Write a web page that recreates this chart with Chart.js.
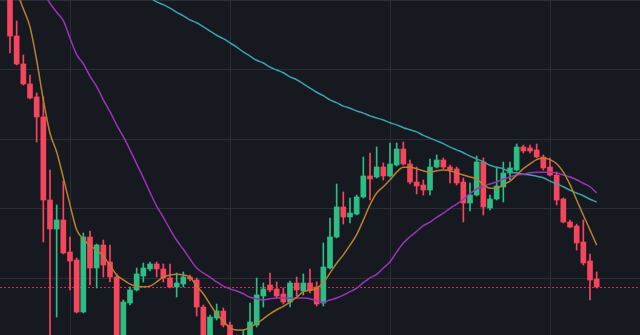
<!DOCTYPE html>
<html>
<head>
<meta charset="utf-8">
<script src="https://cdn.jsdelivr.net/npm/chart.js@4.4.1/dist/chart.umd.min.js"></script>
<style>
  html, body { margin: 0; padding: 0; background: #161a20; }
  #wrap { width: 640px; height: 335px; }
</style>
</head>
<body>
<div id="wrap"><canvas id="grafico" width="640" height="335"></canvas></div>
<script>
// Velas horarias (una por categoría, empezando en la segunda)
const aperturas = [
  104.39, 94.89, 90.86, 87.99, 86.12, 83.24, 71.29, 67.12, 68.42, 63.81,
  62.66, 55.18, 65.97, 61.51, 64.82, 62.37, 60.22, 49.71, 56.47, 58.35,
  60.36, 61.37, 62.09, 61.37, 60.07, 58.78, 59.21, 60.22, 59.78, 55.90,
  51.15, 54.32, 55.32, 53.31, 50.86, 49.42, 51.44, 53.31, 57.48, 59.06,
  58.49, 57.77, 56.62, 59.35, 58.20, 59.35, 58.78, 56.47, 61.51, 65.97,
  70.29, 68.85, 69.28, 71.73, 74.75, 74.60, 76.04, 74.75, 76.33, 78.63,
  76.47, 73.88, 73.45, 72.73, 76.04, 77.05, 76.04, 75.76, 73.88, 70.86,
  72.01, 76.76, 70.14, 71.44, 73.17, 75.18, 75.61, 78.92, 78.78, 78.49,
  77.48, 76.04, 74.89, 71.44, 68.13, 67.55, 65.25, 62.52, 59.93
];
const maximos = [
  105.83, 97.05, 92.16, 89.28, 86.69, 86.12, 75.61, 70.58, 74.03, 65.97,
  62.95, 66.55, 66.83, 64.96, 65.54, 64.82, 60.65, 56.91, 58.78, 61.51,
  62.23, 62.37, 62.37, 62.09, 62.09, 60.79, 60.94, 60.50, 60.07, 56.19,
  54.75, 56.33, 55.76, 53.74, 51.87, 52.59, 56.47, 60.07, 59.35, 60.79,
  59.50, 58.63, 59.64, 60.22, 60.65, 61.37, 59.50, 65.11, 68.71, 73.60,
  72.45, 71.58, 72.01, 77.48, 78.06, 78.92, 76.62, 79.50, 79.50, 79.64,
  77.05, 76.04, 74.17, 77.19, 77.77, 77.34, 76.33, 76.04, 74.46, 73.74,
  77.63, 77.34, 72.01, 76.04, 76.76, 76.76, 79.35, 79.21, 79.21, 79.35,
  77.77, 77.34, 75.32, 71.58, 68.42, 67.84, 68.42, 63.53, 60.94
];
const minimos = [
  92.45, 90.72, 87.84, 85.83, 79.64, 65.25, 50.43, 54.46, 63.53, 58.35,
  55.04, 55.04, 59.06, 58.63, 60.22, 59.50, 48.27, 48.99, 56.19, 58.20,
  59.50, 61.08, 60.22, 59.50, 58.63, 57.34, 58.78, 59.64, 54.60, 50.43,
  50.43, 54.03, 53.02, 49.71, 48.27, 48.56, 50.43, 53.02, 55.90, 58.06,
  57.19, 56.33, 55.90, 57.48, 57.63, 57.91, 56.04, 56.04, 61.37, 65.83,
  67.84, 67.99, 69.14, 71.58, 71.29, 74.46, 74.17, 74.60, 76.19, 76.33,
  73.60, 72.16, 72.01, 72.01, 75.90, 75.76, 73.74, 73.45, 68.13, 69.71,
  71.87, 69.14, 69.86, 71.29, 71.01, 74.17, 75.47, 78.06, 78.06, 77.34,
  75.61, 74.75, 70.58, 67.99, 67.27, 64.10, 61.94, 56.91, 58.63
];
const cierres = [
  94.89, 90.86, 87.99, 85.97, 83.24, 71.29, 67.12, 68.42, 63.67, 62.52,
  55.18, 65.97, 61.51, 64.82, 61.94, 60.22, 49.71, 56.62, 58.35, 60.65,
  61.51, 62.09, 61.37, 60.07, 58.78, 59.35, 60.22, 59.93, 55.90, 51.15,
  54.46, 55.32, 53.31, 50.86, 49.42, 51.44, 53.74, 57.63, 58.49, 58.35,
  57.48, 56.62, 59.35, 58.35, 59.35, 58.35, 56.33, 61.65, 65.97, 70.29,
  68.85, 69.42, 71.73, 74.75, 74.32, 76.04, 74.75, 76.47, 78.63, 76.47,
  73.88, 73.31, 72.73, 76.04, 77.05, 76.04, 75.61, 73.74, 70.86, 72.01,
  76.76, 70.29, 71.44, 73.31, 75.18, 75.90, 78.92, 78.35, 78.35, 77.48,
  75.90, 74.89, 71.29, 68.13, 67.41, 65.11, 62.23, 59.78, 58.78
];

// Medias móviles
const ma7 = [
  104.4, 101.4, 98.8, 96.2, 91.4, 85.7, 80.9, 78.2, 74.5, 70.6,
  67.0, 65.7, 64.7, 64.1, 63.2, 61.9, 60.5, 59.8, 59.2, 58.9,
  58.8, 58.9, 59.5, 60.2, 60.5, 60.6, 60.5, 60.2, 58.9, 57.8,
  56.3, 54.9, 53.9, 52.9, 52.6, 52.6, 53.0, 53.5, 54.2, 54.9,
  55.5, 56.0, 56.6, 57.3, 58.1, 58.3, 58.6, 59.4, 60.8, 62.2,
  63.4, 64.8, 66.3, 68.4, 70.6, 72.3, 73.2, 74.2, 75.3, 76.0,
  76.0, 75.8, 75.5, 75.3, 75.5, 75.6, 75.5, 75.2, 74.9, 74.6,
  74.3, 73.5, 73.0, 73.0, 73.5, 74.0, 74.9, 75.8, 76.5, 77.1,
  77.3, 77.1, 76.5, 75.3, 73.5, 71.3, 69.1, 67.0, 64.8
];
const ma25 = [
  111.6, 109.4, 107.3, 105.3, 103.2, 101.2, 99.6, 98.3, 97.1, 94.6,
  92.2, 90.9, 89.1, 87.6, 85.7, 84.0, 82.1, 80.4, 78.5, 76.5,
  74.5, 72.4, 70.4, 68.8, 67.1, 65.5, 64.2, 62.8, 61.5, 60.8,
  60.2, 59.5, 58.9, 58.5, 58.2, 57.8, 57.3, 57.1, 56.9, 57.1,
  57.2, 57.2, 57.2, 57.2, 57.2, 57.1, 56.8, 56.6, 56.9, 57.2,
  57.6, 58.1, 58.6, 59.4, 60.1, 60.6, 61.5, 62.4, 63.8, 65.1,
  66.0, 66.8, 67.6, 68.1, 68.8, 69.4, 70.1, 70.7, 71.4, 72.2,
  72.9, 73.3, 73.6, 73.9, 74.3, 74.6, 74.9, 75.0, 75.2, 75.3,
  75.3, 75.3, 75.2, 74.9, 74.6, 74.2, 73.7, 73.2, 72.3
];
const ma99 = [
  null, null, null, null, null, null, null, null, null, null,
  null, null, null, null, null, null, null, null, null, 101.5,
  100.9, 100.4, 99.8, 99.4, 98.9, 98.3, 97.8, 97.2, 96.8, 96.2,
  95.6, 95.0, 94.5, 93.9, 93.3, 92.6, 92.0, 91.4, 91.0, 90.4,
  90.0, 89.6, 89.0, 88.6, 88.0, 87.4, 86.8, 86.3, 85.7, 85.3,
  84.8, 84.5, 84.1, 83.8, 83.4, 83.1, 82.8, 82.4, 82.1, 81.7,
  81.4, 81.1, 80.6, 80.2, 79.8, 79.4, 78.9, 78.5, 78.1, 77.6,
  77.2, 76.8, 76.3, 76.0, 75.8, 75.3, 75.2, 75.0, 74.9, 74.7,
  74.5, 74.0, 73.6, 73.2, 72.7, 72.3, 71.9, 71.4, 71.0
];

// 96 horas en el eje X (las últimas quedan vacías a la derecha)
const horas = Array.from({ length: 96 }, (_, i) => {
  const t = 14 + i;
  const dia = String(4 + Math.floor(t / 24)).padStart(2, '0');
  const hora = String(t % 24).padStart(2, '0');
  return `12-${dia} ${hora}:00`;
});

// 🎨 Colores
const VERDE = '#2ebd85';
const ROJO = '#f6465d';
const REJILLA = '#2a2e36';

const colores = aperturas.map((o, i) => (cierres[i] >= o ? VERDE : ROJO));
const cuerpos = aperturas.map((o, i) => ({ x: horas[i + 1], y: [o, cierres[i]] }));
const mechas = aperturas.map((o, i) => ({ x: horas[i + 1], y: [minimos[i], maximos[i]] }));
const serie = arr => arr.map((v, i) => ({ x: horas[i + 1], y: v }));

// Línea punteada del último precio
const lineaPrecio = {
  id: 'lineaPrecio',
  beforeDatasetsDraw(chart) {
    const { ctx, chartArea, scales } = chart;
    const y = Math.round(scales.y.getPixelForValue(cierres[cierres.length - 1])) + 0.5;
    ctx.save();
    ctx.strokeStyle = 'rgba(246, 70, 93, 0.75)';
    ctx.lineWidth = 1;
    ctx.setLineDash([2, 2]);
    ctx.beginPath();
    ctx.moveTo(chartArea.left, y);
    ctx.lineTo(chartArea.right, y);
    ctx.stroke();
    ctx.restore();
  }
};

const linea = (datos, color) => ({
  type: 'line',
  data: serie(datos),
  borderColor: color,
  borderWidth: 1.5,
  pointRadius: 0,
  cubicInterpolationMode: 'monotone',
  order: 0
});

new Chart(document.getElementById('grafico'), {
  type: 'bar',
  data: {
    labels: horas,
    datasets: [
      linea(ma7, '#b8802f'),
      linea(ma25, '#9c33b8'),
      linea(ma99, '#38a3a8'),
      {
        data: cuerpos,
        backgroundColor: colores,
        grouped: false,
        barThickness: 5,
        minBarLength: 1,
        order: 1
      },
      {
        data: mechas,
        backgroundColor: colores,
        grouped: false,
        barThickness: 1,
        order: 2
      }
    ]
  },
  options: {
    responsive: false,
    animation: false,
    layout: { padding: 0, autoPadding: false },
    plugins: {
      legend: { display: false },
      tooltip: { enabled: false }
    },
    scales: {
      x: {
        type: 'category',
        offset: true,
        ticks: { display: false, autoSkip: false },
        border: { display: false },
        grid: {
          offset: false,
          drawTicks: false,
          color: c => (c.index % 24 === 10 ? REJILLA : 'transparent')
        }
      },
      y: {
        min: 51.87,
        max: 100.07,
        ticks: { display: false, stepSize: 10, includeBounds: false },
        border: { display: false },
        grid: { drawTicks: false, color: REJILLA }
      }
    }
  },
  plugins: [lineaPrecio]
});
</script>
</body>
</html>
